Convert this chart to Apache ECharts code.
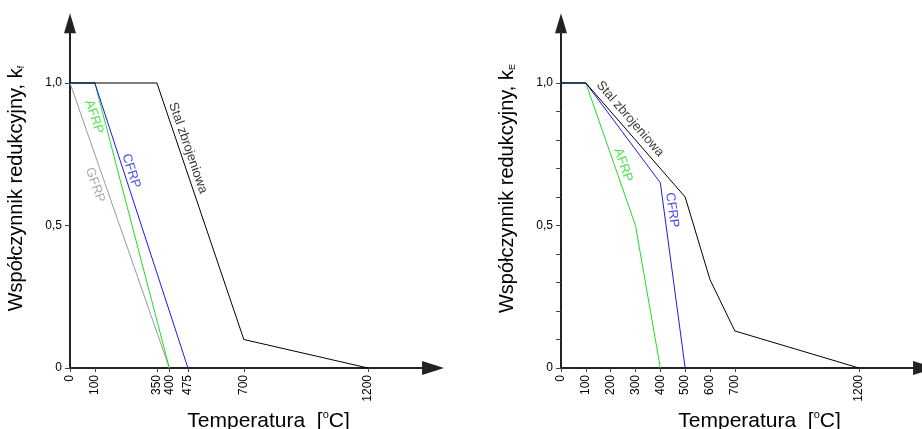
<!DOCTYPE html>
<html>
<head>
<meta charset="utf-8">
<script src="https://cdn.jsdelivr.net/npm/echarts@6/dist/echarts.min.js"></script>
<style>
  html, body { margin: 0; padding: 0; background: #fff; }
  #chart { width: 922px; height: 429px; }
</style>
</head>
<body>
<div id="chart"></div>
<script>
// dane - wykres lewy (k_f)
var ticksLeft = [0, 100, 350, 400, 475, 700, 1200];
var stalF = [[0, 1], [350, 1], [700, 0.1], [1200, 0]];
var cfrpF = [[0, 1], [100, 1], [475, 0]];
var afrpF = [[0, 1], [100, 1], [400, 0]];
var gfrpF = [[0, 1], [400, 0]];

// dane - wykres prawy (k_E)
var ticksRight = [0, 100, 200, 300, 400, 500, 600, 700, 1200];
var stalE = [[0, 1], [100, 1], [500, 0.6], [600, 0.31], [700, 0.13], [1200, 0]];
var cfrpE = [[0, 1], [100, 1], [400, 0.65], [500, 0]];
var afrpE = [[0, 1], [100, 1], [300, 0.5], [400, 0]];

var yLabels = [0, 0.5, 1];
var yTicksRight = [0, 0.1, 0.2, 0.3, 0.4, 0.5, 0.6, 0.7, 0.8, 0.9, 1];

// opisy krzywych: [x, y, tekst, kolor, obrot]
var opisyLeft = [
    [475, 0.772, 'Stal zbrojeniowa', '#000', -71],
    [246, 0.691, 'CFRP', '#1a1ae6', -72],
    [97, 0.881, 'AFRP', '#22dd22', -72],
    [101, 0.642, 'GFRP', '#999', -71]
];
var opisyRight = [
    [278, 0.874, 'Stal zbrojeniowa', '#000', -49],
    [447, 0.554, 'CFRP', '#1a1ae6', -82],
    [250, 0.712, 'AFRP', '#22dd22', -71]
];

var narrow = '"Liberation Sans Narrow", "Arial Narrow", "Liberation Sans", Arial, sans-serif';
var sans = '"Liberation Sans", Arial, sans-serif';

var xMax = 1462, yMax = 1.21;

function xAxisDef(idx, ticks) {
    return {
        type: 'value', gridIndex: idx, min: 0, max: xMax,
        name: 'Temperatura  [{sup|o}C]',
        nameLocation: 'middle', nameGap: 40,
        nameTextStyle: {
            fontFamily: sans, fontSize: 21, color: '#000', padding: [0, 0, 0, 34],
            rich: { sup: { fontSize: 11, verticalAlign: 'top', padding: [0, 0, 12, 0], fontFamily: sans } }
        },
        axisLine: { show: true, symbol: ['none', 'triangle'], symbolSize: [14, 22], lineStyle: { color: '#222', width: 2 } },
        axisTick: { show: true, customValues: ticks, length: 4, lineStyle: { color: '#444' } },
        axisLabel: {
            customValues: ticks, rotate: 90, margin: 7,
            fontFamily: narrow, fontSize: 12, color: '#000',
            formatter: function (v) { return String(v); }
        },
        splitLine: { show: false }
    };
}

function yAxisDef(idx, ticks, sub) {
    return {
        type: 'value', gridIndex: idx, min: 0, max: yMax,
        name: 'Współczynnik redukcyjny, k{sub|' + sub + '}',
        nameLocation: 'middle', nameGap: 44, nameRotate: 90,
        nameTextStyle: {
            fontFamily: sans, fontSize: 20, color: '#000', padding: [0, 0, 0, 14],
            rich: { sub: { fontSize: 9, verticalAlign: 'bottom', fontFamily: sans } }
        },
        axisLine: { show: true, symbol: ['none', 'triangle'], symbolSize: [12, 20], lineStyle: { color: '#222', width: 2 } },
        axisTick: { show: true, customValues: ticks, length: 5, lineStyle: { color: '#444' } },
        axisLabel: {
            customValues: yLabels, margin: 8,
            fontFamily: narrow, fontSize: 12, color: '#000',
            formatter: function (v) { return v === 0 ? '0' : v.toFixed(1).replace('.', ','); }
        },
        splitLine: { show: false }
    };
}

function linia(data, color, idx) {
    return {
        type: 'line', data: data, xAxisIndex: idx, yAxisIndex: idx,
        symbol: 'none', lineStyle: { color: color, width: 1 }, silent: true
    };
}

function opisy(list, idx) {
    return {
        type: 'scatter', xAxisIndex: idx, yAxisIndex: idx, symbolSize: 0, silent: true,
        data: list.map(function (o) {
            return {
                value: [o[0], o[1]],
                label: {
                    show: true, position: 'inside', formatter: o[2], color: o[3], rotate: o[4],
                    fontFamily: sans, fontSize: 13
                }
            };
        })
    };
}

var myChart = echarts.init(document.getElementById('chart'));

// 285 px na jednostke k, 0.24833 px na stopien
var gridH = yMax * 285, gridW = xMax * 0.24833;

var option = {
    animation: false,
    backgroundColor: '#fff',
    grid: [
        { left: 70, top: 368 - gridH, width: gridW, height: gridH, containLabel: false, outerBoundsMode: 'none' },
        { left: 561, top: 368 - gridH, width: gridW, height: gridH, containLabel: false, outerBoundsMode: 'none' }
    ],
    xAxis: [xAxisDef(0, ticksLeft), xAxisDef(1, ticksRight)],
    yAxis: [yAxisDef(0, yLabels, 'f'), yAxisDef(1, yTicksRight, 'E')],
    series: [
        linia(gfrpF, '#999', 0),
        linia(afrpF, '#22dd22', 0),
        linia(cfrpF, '#1a1ae6', 0),
        linia(stalF, '#000', 0),
        opisy(opisyLeft, 0),
        linia(afrpE, '#22dd22', 1),
        linia(cfrpE, '#1a1ae6', 1),
        linia(stalE, '#000', 1),
        opisy(opisyRight, 1)
    ]
};

myChart.setOption(option);
</script>
</body>
</html>
